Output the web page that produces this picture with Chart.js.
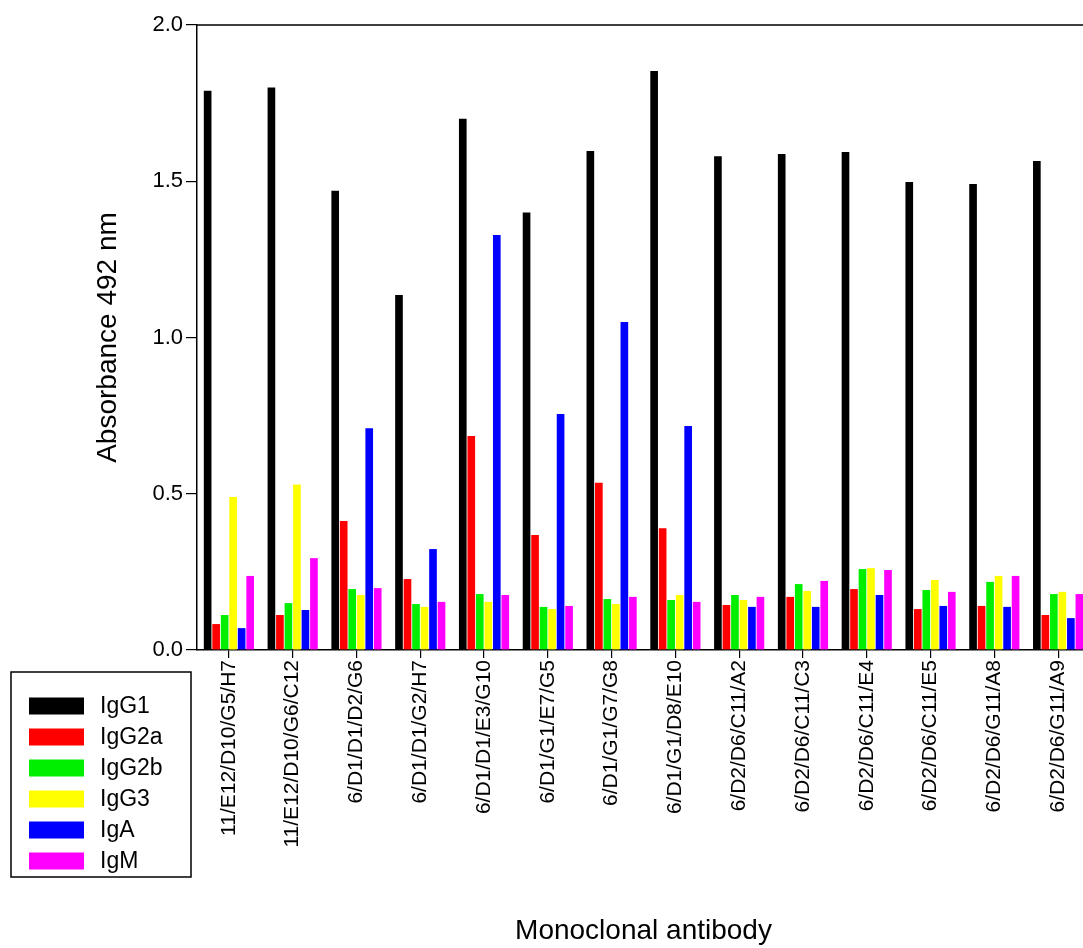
<!DOCTYPE html>
<html>
<head>
<meta charset="utf-8">
<script src="https://cdn.jsdelivr.net/npm/chart.js@4.4.0/dist/chart.umd.min.js"></script>
<style>
html,body{margin:0;padding:0;overflow:hidden;background:#fff;width:1083px;height:948px;}
canvas{display:block;}
</style>
</head>
<body>
<canvas id="c" width="1100" height="948"></canvas>
<script>
const categories = ["11/E12/D10/G5/H7","11/E12/D10/G6/C12","6/D1/D1/D2/G6","6/D1/D1/G2/H7","6/D1/D1/E3/G10","6/D1/G1/E7/G5","6/D1/G1/G7/G8","6/D1/G1/D8/E10","6/D2/D6/C11/A2","6/D2/D6/C11/C3","6/D2/D6/C11/E4","6/D2/D6/C11/E5","6/D2/D6/G11/A8","6/D2/D6/G11/A9"];
const seriesNames = ["IgG1","IgG2a","IgG2b","IgG3","IgA","IgM"];
const igg1  = [1.79, 1.80, 1.47, 1.136, 1.70, 1.40, 1.597, 1.853, 1.58, 1.587, 1.594, 1.498, 1.491, 1.565];
const igg2a = [0.083, 0.112, 0.413, 0.227, 0.685, 0.368, 0.535, 0.39, 0.144, 0.17, 0.195, 0.131, 0.141, 0.112];
const igg2b = [0.112, 0.15, 0.195, 0.147, 0.179, 0.138, 0.163, 0.16, 0.176, 0.211, 0.259, 0.192, 0.218, 0.179];
const igg3  = [0.49, 0.53, 0.176, 0.138, 0.154, 0.131, 0.147, 0.176, 0.16, 0.189, 0.262, 0.224, 0.237, 0.186];
const iga   = [0.07, 0.128, 0.71, 0.323, 1.328, 0.755, 1.05, 0.717, 0.138, 0.138, 0.176, 0.141, 0.138, 0.102];
const igm   = [0.237, 0.294, 0.198, 0.154, 0.176, 0.141, 0.17, 0.154, 0.17, 0.221, 0.256, 0.186, 0.237, 0.179];
const yTicks = [0.0, 0.5, 1.0, 1.5, 2.0];
const colors = ["#000000","#ff0000","#00ee00","#ffff00","#0000ff","#ff00ff"];
const seriesValues = [igg1, igg2a, igg2b, igg3, iga, igm];

const FONT = "'Liberation Sans', Arial, sans-serif";

const frameAndLegend = {
  id: 'frameAndLegend',
  afterDraw(chart) {
    const ctx = chart.ctx;
    const a = chart.chartArea;
    ctx.save();
    ctx.strokeStyle = '#000';
    ctx.lineWidth = 1.5;
    ctx.beginPath();
    ctx.moveTo(a.left, a.top);
    ctx.lineTo(a.right, a.top);
    ctx.lineTo(a.right, a.bottom);
    ctx.stroke();
    // legend box
    const bx = 11, by = 672, bw = 180, bh = 205;
    ctx.fillStyle = '#fff';
    ctx.fillRect(bx, by, bw, bh);
    ctx.strokeRect(bx, by, bw, bh);
    ctx.font = "23px " + FONT;
    ctx.textBaseline = 'middle';
    chart.data.datasets.forEach((ds, i) => {
      const cy = 706 + i * 31;
      ctx.fillStyle = ds.backgroundColor;
      ctx.fillRect(29, cy - 8.5, 55, 17);
      ctx.fillStyle = '#000';
      ctx.fillText(ds.label, 100, cy + 1);
    });
    ctx.restore();
  }
};

new Chart(document.getElementById('c'), {
  type: 'bar',
  data: {
    labels: categories,
    datasets: seriesNames.map((n, i) => ({
      label: n,
      data: seriesValues[i],
      backgroundColor: colors[i],
      borderWidth: 0,
      categoryPercentage: 0.8,
      barPercentage: 0.9
    }))
  },
  options: {
    responsive: false,
    animation: false,
    devicePixelRatio: 1,
    layout: { padding: { left: 0, right: 10, top: 25, bottom: 0 } },
    plugins: { legend: { display: false }, tooltip: { enabled: false } },
    scales: {
      x: {
        afterFit(s) { s.height = 298; },
        grid: { display: true, offset: false, drawOnChartArea: false, drawTicks: true, tickLength: 8, color: '#000', lineWidth: 1.2 },
        border: { display: true, color: '#000', width: 1.5 },
        ticks: { color: '#000', font: { family: FONT, size: 21 }, minRotation: 90, maxRotation: 90, padding: 2, autoSkip: false },
        title: { display: true, text: 'Monoclonal antibody', color: '#000', font: { family: FONT, size: 28 }, padding: { top: 0, bottom: 0 } }
      },
      y: {
        min: 0, max: 2.0,
        afterFit(s) { s.width = 197; },
        afterBuildTicks(s) { s.ticks = yTicks.map(v => ({ value: v })); },
        grid: { display: true, drawOnChartArea: false, drawTicks: true, tickLength: 11, color: '#000', lineWidth: 1.2 },
        border: { display: true, color: '#000', width: 1.5 },
        ticks: { color: '#000', font: { family: FONT, size: 22 }, padding: 3, callback: v => Number(v).toFixed(1) },
        title: { display: true, text: 'Absorbance 492 nm', color: '#000', font: { family: FONT, size: 28 }, padding: { top: 91, bottom: 0 } }
      }
    }
  },
  plugins: [frameAndLegend]
});
</script>
</body>
</html>
